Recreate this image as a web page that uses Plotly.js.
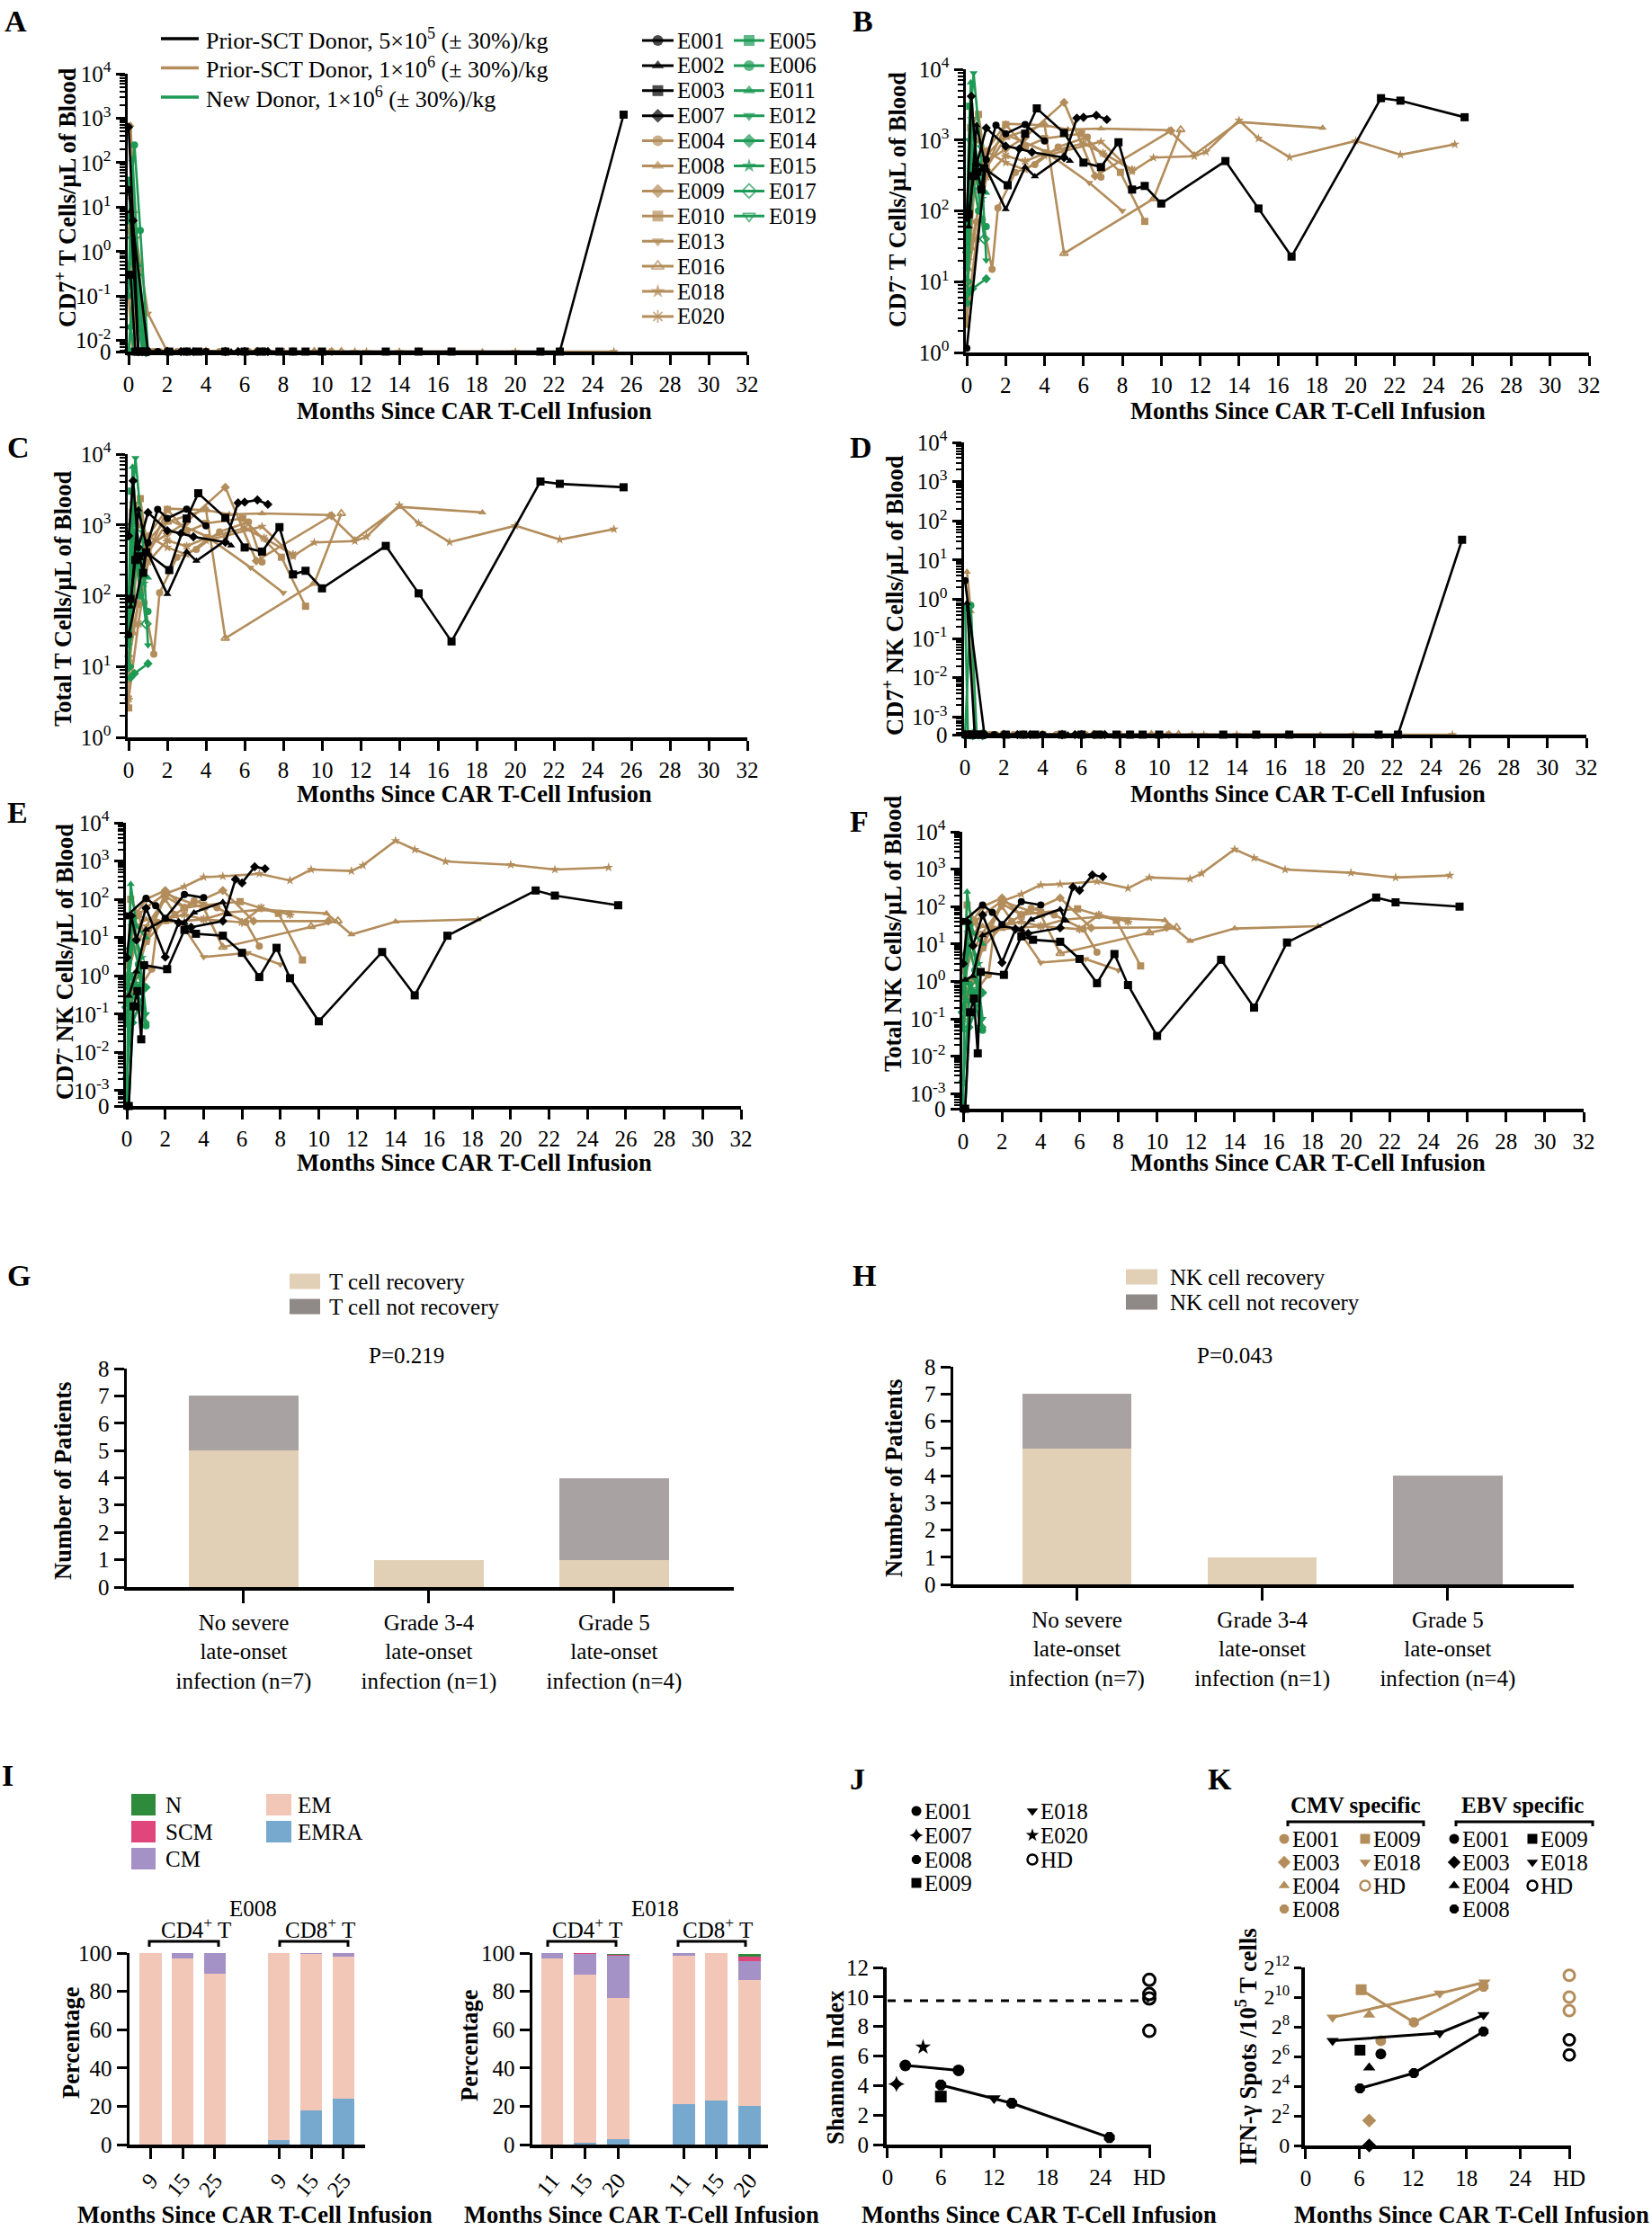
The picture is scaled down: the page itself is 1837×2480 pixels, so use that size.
<!DOCTYPE html>
<html>
<head>
<meta charset="utf-8">
<script src="https://cdn.plot.ly/plotly-3.0.1.min.js"></script>
<style>
html, body { margin: 0; padding: 0; background: #fff; }
#fig { width: 1837px; height: 2480px; }
</style>
</head>
<body>
<div id="fig"></div>
<script>
/**
 * Panels A-F: cell counts per patient (cells/uL), months since infusion.
 * 0 means "not detected" and is drawn on the axis break of the log axis.
 */
// black group: prior-SCT donor 5x10^5/kg
const E001_months = [0, 1.0, 1.5, 2.0, 3.0, 4.0];
const E001_cd7posT = [25, 0, 0, 0, 0, 0];
const E001_cd7negT = [1.15, 530, 1620, 1230, 1660, 970];
const E001_totalT = [28, 560, 1650, 1240, 1670, 970];
const E001_cd7posNK = [3, 0, 0, 0, 0, 0];
const E001_cd7negNK = [37, 107, 68, 32, 134, 110];
const E001_totalNK = [40, 110, 70, 33, 135, 110];

const E002_months = [0.1, 0.5, 1.0, 2.0, 3.0, 3.5, 5.0, 5.3];
const E002_cd7posT = [8, 0, 0, 0, 0, 0, 0, 0];
const E002_cd7negT = [60, 1620, 395, 105, 415, 305, 600, 505];
const E002_totalT = [70, 1650, 400, 105, 420, 310, 600, 510];
const E002_cd7posNK = [0.8, 0, 0, 0, 0, 0, 0, 0];
const E002_cd7negNK = [0.3, 1.3, 16, 30, 25, 45, 85, 40];
const E002_totalNK = [1.1, 1.4, 17, 30, 25, 45, 85, 42];

const E003_months = [0.1, 0.35, 0.55, 0.75, 0.9, 2.1, 3.0, 3.6, 5.0, 6.0, 6.9, 7.8, 8.5, 9.15, 10.0, 13.3, 15.0, 16.7, 21.3, 22.3, 25.6];
const E003_cd7posT = [0.3, 0, 0, 0, 0, 0, 0, 0, 0, 0, 0, 0, 0, 0, 0, 0, 0, 0, 0, 0, 1200];
const E003_cd7negT = [90, 310, 355, 200, 400, 230, 1230, 2800, 1260, 480, 415, 930, 200, 225, 127, 505, 108, 22.6, 3900, 3600, 2100];
const E003_totalT = [90, 320, 360, 210, 410, 230, 1230, 2800, 1260, 480, 420, 930, 200, 225, 127, 505, 108, 22.6, 4100, 3800, 3400];
const E003_cd7posNK = [0, 0, 0, 0, 0, 0, 0, 0, 0, 0, 0, 0, 0, 0, 0, 0, 0, 0, 0, 0, 33];
const E003_cd7negNK = [0, 0.16, 0.4, 0.022, 1.9, 1.5, 15.8, 12.6, 11.2, 4.0, 0.93, 5.4, 0.87, null, 0.065, 4.2, 0.31, 11.2, 170, 125, 70];
const E003_totalNK = [0, 0.15, 0.35, 0.012, 1.8, 1.5, 16, 13, 11.5, 4.0, 0.9, 5.4, 0.8, null, 0.035, 3.8, 0.2, 11, 175, 130, 100];

const E007_months = [0, 0.23, 0.5, 1.0, 2.0, 2.7, 3.35, 5.0, 5.66, 6.0, 6.66, 7.2];
const E007_cd7posT = [630, 5, 0, 0, 0, 0, 0, 0, 0, 0, 0, 0];
const E007_cd7negT = [80, 4150, 450, 1480, 820, 750, 675, 565, 2040, 2090, 2230, 1950];
const E007_totalT = [700, 4200, 480, 1500, 830, 760, 680, 570, 2050, 2100, 2250, 1950];
const E007_cd7posNK = [0, 0, 0, 0, 0, 0, 0, 0, 0, 0, 0, 0];
const E007_cd7negNK = [3, 37, 8.7, 59, 3.1, 24.5, 18.6, 27, 333, 268, 710, 630];
const E007_totalNK = [3, 38, 9, 60, 3.2, 25, 19, 27, 335, 270, 700, 630];

// brown group: prior-SCT donor 1x10^6/kg
const E004_months = [0, 0.5, 0.8, 1.3, 1.6, 2.5, 3.5, 4.7, 6.2, 6.9];
const E004_cd7posT = [3, 0.03, 0, 0, 0, 0, 0, 0, 0, 0];
const E004_cd7negT = [10, 70, 75, 15, 110, 350, 450, 800, 1100, 300];
const E004_totalT = [12, 75, 80, 15, 110, 350, 450, 800, 1100, 300];
const E004_cd7posNK = [0, 0, 0, 0, 0, 0, 0, 0, 0, 0];
const E004_cd7negNK = [0.3, 1.2, 0.6, 1.5, 25, 40, 90, 60, 25, 6];
const E004_totalNK = [0.4, 1.2, 0.7, 1.5, 25, 40, 90, 60, 25, 6];

const E008_months = [0.1, 0.3, 0.5, 1.0, 2.0, 4.0, 5.2, 6.9, 10.4, 11.7, 14.0, 18.3];
const E008_cd7posT = [700, 8, 0.02, 0, 0, 0, 0, 0, 0, 0, 0, 0];
const E008_cd7negT = [15, 400, 1000, 700, 1700, 1620, 1410, 1450, 1380, 620, 1800, 1480];
const E008_totalT = [700, 420, 1000, 700, 1700, 1620, 1410, 1450, 1380, 620, 1800, 1500];
const E008_cd7posNK = [5, 0.5, 0, 0, 0, 0, 0, 0, 0, 0, 0, 0];
const E008_cd7negNK = [1, 5, 20, 30, 25, 30, 45, 53, 43, 12, 26, 30];
const E008_totalNK = [6, 5, 20, 30, 25, 30, 45, 53, 43, 12, 26, 30];

const E009_months = [0, 0.3, 1.0, 2.0, 3.0, 5.0, 6.6, 10.5];
const E009_cd7posT = [6, 0.05, 0, 0, 0, 0, 0, 0];
const E009_cd7negT = [8, 200, 500, 750, 1100, 3400, 310, 1350];
const E009_totalT = [14, 200, 500, 750, 1100, 3400, 310, 1350];
const E009_cd7posNK = [0, 0, 0, 0, 0, 0, 0, 0];
const E009_cd7negNK = [2, 30, 100, 170, 60, 170, 27, 27];
const E009_totalNK = [2, 30, 100, 170, 60, 170, 27, 28];

const E010_months = [0, 0.2, 0.6, 1.0, 2.0, 3.0, 4.0, 5.9, 7.9, 9.15];
const E010_cd7posT = [0.1, 0, 0, 0, 0, 0, 0, 0, 0, 0];
const E010_cd7negT = [2.5, 1500, 2300, 400, 1650, 800, 1050, 1230, 350, 71];
const E010_totalT = [2.6, 1500, 2350, 400, 1650, 800, 1050, 1230, 350, 71];
const E010_cd7posNK = [0, 0, 0, 0, 0, 0, 0, 0, 0, 0];
const E010_cd7negNK = [0.5, 100, 40, 8, 120, 60, 70, 87, 43, 2.6];
const E010_totalNK = [0.5, 110, 40, 8, 120, 60, 70, 87, 43, 2.6];

const E013_months = [0, 0.4, 1.0, 2.0, 4.0, 6.3, 8.0];
const E013_cd7posT = [0.5, 2, 0.04, 0, 0, 0, 0];
const E013_cd7negT = [6, 250, 600, 1200, 700, 250, 100];
const E013_totalT = [6.5, 250, 600, 1200, 700, 250, 110];
const E013_cd7posNK = [0, 0, 0, 0, 0, 0, 0];
const E013_cd7negNK = [1, 5, 20, 100, 3.1, 4, 2];
const E013_totalNK = [1, 5, 20, 100, 3.2, 4, 2];

const E016_months = [0.2, 1.0, 2.0, 4.0, 5.0, 9.6, 11.0];
const E016_cd7posT = [0, 0, 0, 0, 0, 0, 0];
const E016_cd7negT = [30, 400, 1100, 1650, 25, 148, 1400];
const E016_totalT = [30, 400, 1100, 1650, 25, 150, 1450];
const E016_cd7posNK = [0, 0, 0, 0, 0, 0, 0];
const E016_cd7negNK = [0.5, 10, 140, 60, 5.6, 19.5, 27.5];
const E016_totalNK = [0.5, 10, 140, 60, 5.6, 20, 28];

const E018_months = [0.1, 0.4, 1.0, 2.0, 3.0, 4.0, 5.0, 6.9, 8.5, 9.6, 11.7, 12.3, 14.0, 15.0, 16.6, 20.0, 22.3, 25.1];
const E018_cd7posT = [18, 0.5, 0, 0, 0, 0, 0, 0, 0, 0, 0, 0, 0, 0, 0, 0, 0, 0];
const E018_cd7negT = [20, 300, 700, 480, 380, 600, 700, 950, 360, 565, 590, 680, 1900, 1050, 570, 975, 620, 870];
const E018_totalT = [40, 300, 700, 480, 380, 600, 700, 950, 360, 565, 590, 680, 1900, 1050, 570, 975, 620, 870];
const E018_cd7posNK = [0, 0, 0, 0, 0, 0, 0, 0, 0, 0, 0, 0, 0, 0, 0, 0, 0, 0];
const E018_cd7negNK = [3, 30, 60, 140, 215, 380, 400, 465, 310, 600, 550, 770, 3400, 2000, 975, 800, 600, 680];
const E018_totalNK = [3, 30, 60, 140, 215, 380, 400, 470, 310, 600, 550, 770, 3400, 2000, 975, 800, 600, 680];

const E020_months = [0, 0.5, 1.0, 2.0, 3.0, 4.0, 6.0, 7.0, 8.5];
const E020_cd7posT = [0.5, 0, 0, 0, 0, 0, 0, 0, 0];
const E020_cd7negT = [3, 40, 300, 600, 500, 650, 900, 650, 380];
const E020_totalT = [3.5, 40, 300, 600, 500, 650, 900, 650, 380];
const E020_cd7posNK = [0, 0, 0, 0, 0, 0, 0, 0, 0];
const E020_cd7negNK = [0.1, 1, 8, 30, 40, 30, 25, 60, 40];
const E020_totalNK = [0.1, 1, 8, 30, 40, 30, 25, 60, 40];

// green group: new donor 1x10^6/kg
const E005_months = [0, 0.15, 0.5];
const E005_cd7posT = [40, 5, 0];
const E005_cd7negT = [50, 3000, 400];
const E005_totalT = [90, 3000, 400];
const E005_cd7posNK = [0.6, 0, 0];
const E005_cd7negNK = [0, 1, 0.5];
const E005_totalNK = [0.6, 1, 0.5];

const E006_months = [0, 0.3, 0.6, 1.0];
const E006_cd7posT = [5, 250, 3, 0];
const E006_cd7negT = [5, 300, 100, 60];
const E006_totalT = [10, 550, 100, 60];
const E006_cd7posNK = [0, 0.7, 0, 0];
const E006_cd7negNK = [0.2, 8, 2, 0.05];
const E006_totalNK = [0.2, 9, 2, 0.05];

const E011_months = [0, 0.2, 0.5, 1.0];
const E011_cd7posT = [0.2, 120, 0.5, 0];
const E011_cd7negT = [30, 6500, 300, 180];
const E011_totalT = [30, 6600, 300, 180];
const E011_cd7posNK = [0, 0, 0, 0];
const E011_cd7negNK = [0.05, 250, 20, 10];
const E011_totalNK = [0.05, 250, 20, 10];

const E012_months = [0, 0.1, 0.35, 0.7, 1.0];
const E012_cd7posT = [0.1, 2, 0.1, 0, 0];
const E012_cd7negT = [20, 1000, 8800, 800, 20];
const E012_totalT = [20, 1000, 8800, 800, 20];
const E012_cd7posNK = [0, 0, 0, 0, 0];
const E012_cd7negNK = [0, 5, 30, 2, 0.1];
const E012_totalNK = [0, 5, 30, 2, 0.1];

const E014_months = [0.1, 0.3, 1.0];
const E014_cd7posT = [0.02, 0, 0];
const E014_cd7negT = [7, 8, 11];
const E014_totalT = [7, 8, 11];
const E014_cd7posNK = [0, 0, 0];
const E014_cd7negNK = [0, 0.06, 0.5];
const E014_totalNK = [0, 0.06, 0.5];

const E015_months = [0, 0.25, 0.8];
const E015_cd7posT = [36, 3, 0];
const E015_cd7negT = [15, 2000, 150];
const E015_totalT = [50, 2000, 150];
const E015_cd7posNK = [0, 0, 0];
const E015_cd7negNK = [0.5, 20, 3];
const E015_totalNK = [0.5, 20, 3];

const E017_months = [0, 0.4, 0.9];
const E017_cd7posT = [0, 0.3, 0];
const E017_cd7negT = [10, 500, 40];
const E017_totalT = [10, 500, 40];
const E017_cd7posNK = [0, 0, 0];
const E017_cd7negNK = [0.15, 1, 0.06];
const E017_totalNK = [0.15, 1, 0.06];

const E019_months = [0, 0.3, 0.7];
const E019_cd7posT = [0, 0.5, 0];
const E019_cd7negT = [25, 900, 200];
const E019_totalT = [25, 900, 200];
const E019_cd7posNK = [0, 0, 0];
const E019_cd7negNK = [0.002, 0.3, 0.6];
const E019_totalNK = [0.002, 0.3, 0.6];

/**
 * Panels G/H: patients by late-onset infection grade
 */
const infectionGroups = [
	'No severe<br>late-onset<br>infection (n=7)',
	'Grade 3-4<br>late-onset<br>infection (n=1)',
	'Grade 5<br>late-onset<br>infection (n=4)',
];
const tRecovered = [5, 1, 1];
const tNotRecovered = [2, 0, 3];
const nkRecovered = [5, 1, 0];
const nkNotRecovered = [2, 0, 4];

/**
 * Panel I: T-cell subsets (%), CD4 bars then CD8 bars
 */
const e008Months = [9, 15, 25];
const e008_EMRA = [0, 0, 0, 2.2, 17.9, 23.8];
const e008_EM = [100, 97.4, 89.1, 97.8, 81.6, 74.1];
const e008_CM = [0, 2.6, 10.9, 0, 0.3, 1.9];
const e008_SCM = [0, 0, 0, 0, 0.2, 0.2];
const e008_N = [0, 0, 0, 0, 0, 0];
const e018Months = [11, 15, 20];
const e018_EMRA = [0, 1.1, 2.7, 20.9, 23.2, 20.0];
const e018_EM = [97.3, 87.5, 73.7, 77.5, 76.8, 66.0];
const e018_CM = [2.7, 10.9, 22.0, 1.6, 0, 9.7];
const e018_SCM = [0, 0.5, 0.8, 0, 0, 2.2];
const e018_N = [0, 0, 0.5, 0, 0, 1.8];

/**
 * Panel J: Shannon index of TCR repertoire
 */
const shE001_x = [2, 8], shE001_y = [5.36, 5.03];
const shE007_x = [1], shE007_y = [4.1];
const shE008_x = [6, 14, 25], shE008_y = [4.04, 2.8, 0.48];
const shE009_x = [6], shE009_y = [3.25];
const shE018_x = [12], shE018_y = [3.14];
const shE020_x = [4], shE020_y = [6.6];
const shHD_y = [11.16, 10.2, 9.9, 7.7];

/**
 * Panel K: IFN-gamma spots / 10^5 T cells (0 = none detected)
 */
const cmvE001_x = [8.4], cmvE001_y = [133];
const cmvE003_x = [7.1], cmvE003_y = [3.2];
const cmvE004_x = [7.1], cmvE004_y = [446];
const cmvE008_x = [6.2, 12.1, 19.9], cmvE008_y = [1448, 315, 1663];
const cmvE009_x = [6.2], cmvE009_y = [1448];
const cmvE018_x = [3, 15, 20], cmvE018_y = [396, 1218, 2048];
const cmvHD_y = [2837, 1024, 545];
const ebvE001_x = [8.4], ebvE001_y = [72];
const ebvE003_x = [7.1], ebvE003_y = [0];
const ebvE004_x = [7.1], ebvE004_y = [38];
const ebvE008_x = [6.07, 12.1, 19.9], ebvE008_y = [14.4, 29.4, 205];
const ebvE009_x = [6.07], ebvE009_y = [86];
const ebvE018_x = [3, 15, 19.9], ebvE018_y = [133, 191, 446];
const ebvHD_y = [139, 69];

/* ---------------------------------------------------------------- */

const W = 1837, H = 2480;
const SERIF = '"Liberation Serif", "Times New Roman", Times, serif';
const BLACK = '#000000', BROWN = '#B38D5B', GREEN = '#1E9A55';
const HD_POS = 29.5; // x position of the "HD" column in J and K

const px = x => x / W;
const py = y => 1 - y / H;
const hdom = (a, b) => [px(a), px(b)];
const vdom = (top, bottom) => [py(bottom), py(top)];

const mk = (id, color, symbol, m, a, b, c, d, e, f) => ({
	id, color, symbol, months: m,
	cd7posT: a, cd7negT: b, totalT: c, cd7posNK: d, cd7negNK: e, totalNK: f,
});

const patients = [
	mk('E001', BLACK, 'circle', E001_months, E001_cd7posT, E001_cd7negT, E001_totalT, E001_cd7posNK, E001_cd7negNK, E001_totalNK),
	mk('E002', BLACK, 'triangle-up', E002_months, E002_cd7posT, E002_cd7negT, E002_totalT, E002_cd7posNK, E002_cd7negNK, E002_totalNK),
	mk('E003', BLACK, 'square', E003_months, E003_cd7posT, E003_cd7negT, E003_totalT, E003_cd7posNK, E003_cd7negNK, E003_totalNK),
	mk('E007', BLACK, 'diamond', E007_months, E007_cd7posT, E007_cd7negT, E007_totalT, E007_cd7posNK, E007_cd7negNK, E007_totalNK),
	mk('E004', BROWN, 'circle', E004_months, E004_cd7posT, E004_cd7negT, E004_totalT, E004_cd7posNK, E004_cd7negNK, E004_totalNK),
	mk('E008', BROWN, 'triangle-up', E008_months, E008_cd7posT, E008_cd7negT, E008_totalT, E008_cd7posNK, E008_cd7negNK, E008_totalNK),
	mk('E009', BROWN, 'diamond', E009_months, E009_cd7posT, E009_cd7negT, E009_totalT, E009_cd7posNK, E009_cd7negNK, E009_totalNK),
	mk('E010', BROWN, 'square', E010_months, E010_cd7posT, E010_cd7negT, E010_totalT, E010_cd7posNK, E010_cd7negNK, E010_totalNK),
	mk('E013', BROWN, 'triangle-down', E013_months, E013_cd7posT, E013_cd7negT, E013_totalT, E013_cd7posNK, E013_cd7negNK, E013_totalNK),
	mk('E016', BROWN, 'triangle-up-open', E016_months, E016_cd7posT, E016_cd7negT, E016_totalT, E016_cd7posNK, E016_cd7negNK, E016_totalNK),
	mk('E018', BROWN, 'star', E018_months, E018_cd7posT, E018_cd7negT, E018_totalT, E018_cd7posNK, E018_cd7negNK, E018_totalNK),
	mk('E020', BROWN, 'asterisk-open', E020_months, E020_cd7posT, E020_cd7negT, E020_totalT, E020_cd7posNK, E020_cd7negNK, E020_totalNK),
	mk('E005', GREEN, 'square', E005_months, E005_cd7posT, E005_cd7negT, E005_totalT, E005_cd7posNK, E005_cd7negNK, E005_totalNK),
	mk('E006', GREEN, 'circle', E006_months, E006_cd7posT, E006_cd7negT, E006_totalT, E006_cd7posNK, E006_cd7negNK, E006_totalNK),
	mk('E011', GREEN, 'triangle-up', E011_months, E011_cd7posT, E011_cd7negT, E011_totalT, E011_cd7posNK, E011_cd7negNK, E011_totalNK),
	mk('E012', GREEN, 'triangle-down', E012_months, E012_cd7posT, E012_cd7negT, E012_totalT, E012_cd7posNK, E012_cd7negNK, E012_totalNK),
	mk('E014', GREEN, 'diamond', E014_months, E014_cd7posT, E014_cd7negT, E014_totalT, E014_cd7posNK, E014_cd7negNK, E014_totalNK),
	mk('E015', GREEN, 'star', E015_months, E015_cd7posT, E015_cd7negT, E015_totalT, E015_cd7posNK, E015_cd7negNK, E015_totalNK),
	mk('E017', GREEN, 'diamond-open', E017_months, E017_cd7posT, E017_cd7negT, E017_totalT, E017_cd7posNK, E017_cd7negNK, E017_totalNK),
	mk('E019', GREEN, 'triangle-down-open', E019_months, E019_cd7posT, E019_cd7negT, E019_totalT, E019_cd7posNK, E019_cd7negNK, E019_totalNK),
];

/**
 * Log panels A-F: axis ids, domains (px) and the "0" break position
 */
const logPanels = [
	{ key: 'cd7posT', n: '', x: [142, 831], y: [82, 391], lo: -2.25, minExp: -2, zero: true },
	{ key: 'cd7negT', n: '2', x: [1074, 1767], y: [77, 392], lo: 0, minExp: 0, zero: false },
	{ key: 'totalT', n: '3', x: [142, 831], y: [505, 820], lo: 0, minExp: 0, zero: false },
	{ key: 'cd7posNK', n: '4', x: [1072, 1764], y: [492, 817], lo: -3.45, minExp: -3, zero: true },
	{ key: 'cd7negNK', n: '5', x: [140, 824], y: [915, 1230], lo: -3.4, minExp: -3, zero: true },
	{ key: 'totalNK', n: '6', x: [1070, 1761], y: [925, 1233], lo: -3.4, minExp: -3, zero: true },
];

const axisBase = {
	showline: true, linecolor: 'black', linewidth: 3.5,
	ticks: 'outside', ticklen: 11, tickwidth: 3, tickcolor: 'black',
	showgrid: false, zeroline: false, fixedrange: true,
	tickfont: { family: SERIF, size: 25, color: 'black' },
};
const axis = opts => Object.assign({}, axisBase, opts);

const layout = {
	width: W, height: H,
	margin: { l: 0, r: 0, t: 0, b: 0 },
	paper_bgcolor: 'white', plot_bgcolor: 'rgba(0,0,0,0)',
	showlegend: false,
	barmode: 'stack',
	font: { family: SERIF, size: 25, color: 'black' },
	annotations: [],
	shapes: [],
};

const traces = [];
const groupOrder = { [BROWN]: 0, [GREEN]: 1, [BLACK]: 2 };
const markerFor = (symbol, color, size) => ({
	symbol, size, color,
	line: { color, width: /open/.test(symbol) ? 1.8 : 0 },
});

logPanels.forEach(panel => {
	const floor = Math.pow(10, panel.lo);
	const tickvals = [], ticktext = [], minor = [];
	if ( panel.zero ){
		tickvals.push(floor);
		ticktext.push('0');
	}
	for ( let e = panel.minExp; e <= 4; e++ ){
		tickvals.push(Math.pow(10, e));
		ticktext.push(`10<sup>${e}</sup>`);
	}
	for ( let e = Math.floor(panel.lo); e < 4; e++ ){
		for ( let m = 2; m <= 9; m++ ){
			const v = m * Math.pow(10, e);
			if ( Math.log10(v) > panel.lo ) minor.push(v);
		}
	}

	layout[`xaxis${panel.n}`] = axis({
		domain: hdom(...panel.x), anchor: `y${panel.n}`,
		range: [-0.05, 32], tickmode: 'linear', tick0: 0, dtick: 2,
	});
	layout[`yaxis${panel.n}`] = axis({
		domain: vdom(...panel.y), anchor: `x${panel.n}`,
		type: 'log', range: [panel.lo, 4],
		tickmode: 'array', tickvals, ticktext, ticklen: 10,
		minor: { tickmode: 'array', tickvals: minor, ticks: 'outside', ticklen: 6, tickwidth: 2, tickcolor: 'black' },
	});

	patients
		.slice()
		.sort((a, b) => groupOrder[a.color] - groupOrder[b.color])
		.forEach(p => {
			traces.push({
				type: 'scatter', mode: 'lines+markers',
				x: p.months,
				y: p[panel.key].map(v => (v === 0 && panel.zero) ? floor : v),
				xaxis: `x${panel.n}`, yaxis: `y${panel.n}`,
				name: p.id, showlegend: false,
				connectgaps: true, cliponaxis: false, hoverinfo: 'skip',
				line: { color: p.color, width: 2.6 },
				marker: markerFor(p.symbol, p.color, p.symbol === 'square' && p.color === BLACK ? 9 : 8),
			});
		});
});

/**
 * Panel A legends, drawn on an invisible page-sized axis (units = px)
 */
layout.xaxis13 = { domain: [0, 1], range: [0, W], visible: false, fixedrange: true };
layout.yaxis13 = { domain: [0, 1], range: [H, 0], visible: false, fixedrange: true, anchor: 'x13' };
const keyText = (text, x, y, size) => ({
	text, x, y, xref: 'x13', yref: 'y13', showarrow: false,
	xanchor: 'left', yanchor: 'middle',
	font: { family: SERIF, size, color: 'black' },
});

[
	[ 'Prior-SCT Donor, 5×10<sup>5</sup> (± 30%)/kg', BLACK ],
	[ 'Prior-SCT Donor, 1×10<sup>6</sup> (± 30%)/kg', BROWN ],
	[ 'New Donor, 1×10<sup>6</sup> (± 30%)/kg', GREEN ],
].forEach(([ name, color ], i) => {
	const y = 43 + i * 32.5;
	traces.push({
		type: 'scatter', mode: 'lines', x: [179, 221], y: [y, y],
		xaxis: 'x13', yaxis: 'y13', showlegend: false, hoverinfo: 'skip',
		line: { color, width: 3.5 },
	});
	layout.annotations.push(keyText(name, 227, y, 26));
});

const keyColumns = [
	{ list: patients.filter(p => p.color !== GREEN), x0: 714, x1: 749, text: 751 },
	{ list: patients.filter(p => p.color === GREEN), x0: 816, x1: 850, text: 853 },
];
keyColumns.forEach(col => {
	col.list.forEach((p, i) => {
		const y = 45 + i * 27.9;
		traces.push({
			type: 'scatter', mode: 'lines+markers',
			x: [col.x0, (col.x0 + col.x1) / 2, col.x1], y: [y, y, y],
			xaxis: 'x13', yaxis: 'y13', showlegend: false, hoverinfo: 'skip', cliponaxis: false,
			line: { color: p.color, width: 3 },
			marker: Object.assign(markerFor(p.symbol, p.color, 0), { size: [0, 12, 0] }),
		});
		layout.annotations.push(keyText(p.id, col.text, y, 25));
	});
});

/**
 * Panels G and H: stacked bars
 */
const RECOV = '#E1D0B6', NOTREC = '#A8A2A2';
[
	{ n: '7', x: [141, 816], y: [1522, 1765], range: [-0.631, 2.646], rec: tRecovered, not: tNotRecovered },
	{ n: '8', x: [1060, 1750], y: [1520, 1762], range: [-0.667, 2.68], rec: nkRecovered, not: nkNotRecovered },
].forEach(p => {
	layout[`xaxis${p.n}`] = axis({
		domain: hdom(...p.x), anchor: `y${p.n}`, type: 'category',
		range: p.range, ticklen: 14,
	});
	layout[`yaxis${p.n}`] = axis({
		domain: vdom(...p.y), anchor: `x${p.n}`, range: [0, 8],
		tickmode: 'linear', tick0: 0, dtick: 1,
	});
	[ [ p.rec, RECOV ], [ p.not, NOTREC ] ].forEach(([ vals, color ]) => {
		traces.push({
			type: 'bar', x: infectionGroups, y: vals, width: 0.59,
			xaxis: `x${p.n}`, yaxis: `y${p.n}`, showlegend: false,
			marker: { color, line: { width: 0 } }, hoverinfo: 'skip',
		});
	});
});

/**
 * Panel I: subset composition
 */
const subsetColors = { EMRA: '#77A9CF', EM: '#F2C7B7', CM: '#A491C6', SCM: '#E0467C', N: '#2E8B3C' };
[
	{ n: '9', x: [144, 406], y: [2172, 2385], range: [-0.66, 6.68], months: e008Months,
		sets: { EMRA: e008_EMRA, EM: e008_EM, CM: e008_CM, SCM: e008_SCM, N: e008_N } },
	{ n: '10', x: [592, 854], y: [2172, 2385], range: [-0.6, 6.56], months: e018Months,
		sets: { EMRA: e018_EMRA, EM: e018_EM, CM: e018_CM, SCM: e018_SCM, N: e018_N } },
].forEach(p => {
	// CD4 bars in slots 0-2, CD8 bars in slots 4-6
	const slots = [], labels = [];
	[ 0, 1 ].forEach(g => p.months.forEach((m, i) => { slots.push(g * 4 + i); labels.push(String(m)); }));
	layout[`xaxis${p.n}`] = axis({
		domain: hdom(...p.x), anchor: `y${p.n}`, range: p.range,
		tickmode: 'array', tickvals: slots, ticktext: labels, tickangle: -50, ticklen: 12,
	});
	layout[`yaxis${p.n}`] = axis({
		domain: vdom(...p.y), anchor: `x${p.n}`, range: [0, 100],
		tickmode: 'linear', tick0: 0, dtick: 20,
	});
	Object.keys(subsetColors).forEach(k => {
		traces.push({
			type: 'bar', x: slots, y: p.sets[k], width: 0.68,
			xaxis: `x${p.n}`, yaxis: `y${p.n}`, showlegend: false,
			marker: { color: subsetColors[k], line: { width: 0 } }, hoverinfo: 'skip',
		});
	});
});

/**
 * Panel J: Shannon index
 */
layout.xaxis11 = axis({
	domain: hdom(985.5, 1280), anchor: 'y11', range: [-0.15, 29.7],
	tickmode: 'array', tickvals: [0, 6, 12, 18, 24, HD_POS], ticktext: ['0', '6', '12', '18', '24', 'HD'],
});
layout.yaxis11 = axis({
	domain: vdom(2188, 2385), anchor: 'x11', range: [0, 12], tickmode: 'linear', tick0: 0, dtick: 2,
});
[
	[ shE001_x, shE001_y, 'circle', 'lines+markers' ],
	[ shE007_x, shE007_y, 'star-diamond', 'markers' ],
	[ shE008_x, shE008_y, 'octagon', 'lines+markers' ],
	[ shE009_x, shE009_y, 'square', 'markers' ],
	[ shE018_x, shE018_y, 'triangle-down', 'markers' ],
	[ shE020_x, shE020_y, 'star', 'markers' ],
	[ shHD_y.map(() => HD_POS), shHD_y, 'circle-open', 'markers' ],
].forEach(([ x, y, symbol, mode ]) => {
	traces.push({
		type: 'scatter', mode, x, y, xaxis: 'x11', yaxis: 'y11', showlegend: false,
		line: { color: BLACK, width: 3 }, cliponaxis: false, hoverinfo: 'skip',
		marker: { symbol, size: 13, color: BLACK, line: { color: BLACK, width: /open/.test(symbol) ? 3 : 0 } },
	});
});
const hdMean = shHD_y.reduce((s, v) => s + v, 0) / shHD_y.length;
layout.shapes.push({
	type: 'line', xref: 'x11', yref: 'y11', x0: 0, x1: HD_POS, y0: hdMean, y1: hdMean,
	line: { color: BLACK, width: 3, dash: 'dash' },
});

/**
 * Panel K: IFN-gamma ELISpot (log2 axis)
 */
layout.xaxis12 = axis({
	domain: hdom(1450.5, 1747), anchor: 'y12', range: [-0.15, 29.7],
	tickmode: 'array', tickvals: [0, 6, 12, 18, 24, HD_POS], ticktext: ['0', '6', '12', '18', '24', 'HD'],
});
layout.yaxis12 = axis({
	domain: vdom(2188, 2386), anchor: 'x12', type: 'log', range: [0, Math.log10(4096)],
	tickmode: 'array', ticklen: 8,
	tickfont: { family: SERIF, size: 24, color: 'black' },
	tickvals: [1, 4, 16, 64, 256, 1024, 4096],
	ticktext: ['0', '2<sup>2</sup>', '2<sup>4</sup>', '2<sup>6</sup>', '2<sup>8</sup>', '2<sup>10</sup>', '2<sup>12</sup>'],
});
const kZero = v => v === 0 ? 1 : v;
[
	[ cmvE001_x, cmvE001_y, 'circle', BROWN, 'markers' ],
	[ cmvE003_x, cmvE003_y, 'diamond', BROWN, 'markers' ],
	[ cmvE004_x, cmvE004_y, 'triangle-up', BROWN, 'markers' ],
	[ cmvE008_x, cmvE008_y, 'octagon', BROWN, 'lines+markers' ],
	[ cmvE009_x, cmvE009_y, 'square', BROWN, 'markers' ],
	[ cmvE018_x, cmvE018_y, 'triangle-down', BROWN, 'lines+markers' ],
	[ cmvHD_y.map(() => HD_POS), cmvHD_y, 'circle-open', BROWN, 'markers' ],
	[ ebvE001_x, ebvE001_y, 'circle', BLACK, 'markers' ],
	[ ebvE003_x, ebvE003_y, 'diamond', BLACK, 'markers' ],
	[ ebvE004_x, ebvE004_y, 'triangle-up', BLACK, 'markers' ],
	[ ebvE008_x, ebvE008_y, 'octagon', BLACK, 'lines+markers' ],
	[ ebvE009_x, ebvE009_y, 'square', BLACK, 'markers' ],
	[ ebvE018_x, ebvE018_y, 'triangle-down', BLACK, 'lines+markers' ],
	[ ebvHD_y.map(() => HD_POS), ebvHD_y, 'circle-open', BLACK, 'markers' ],
].forEach(([ x, y, symbol, color, mode ]) => {
	traces.push({
		type: 'scatter', mode, x, y: y.map(kZero), xaxis: 'x12', yaxis: 'y12', showlegend: false,
		line: { color, width: 3 }, cliponaxis: false, hoverinfo: 'skip',
		marker: { symbol, size: 12, color, line: { color, width: /open/.test(symbol) ? 3 : 0 } },
	});
});

/**
 * Text: panel letters, axis titles, custom legends
 */
const note = (text, x, y, o = {}) => Object.assign({
	text, x: px(x), y: py(y), xref: 'paper', yref: 'paper', showarrow: false,
	xanchor: 'center', yanchor: 'middle',
	font: { family: SERIF, size: 25, color: 'black' },
}, o);
const letter = (t, x, y) => note(`<b>${t}</b>`, x, y, { xanchor: 'left', font: { family: SERIF, size: 34, color: 'black' } });
const ytitle = (t, x, y) => note(`<b>${t}</b>`, x, y, { textangle: -90, font: { family: SERIF, size: 26.5, color: 'black' } });
const xtitle = (x, y) => note('<b>Months Since CAR T-Cell Infusion</b>', x, y, { font: { family: SERIF, size: 26.5, color: 'black' } });

layout.annotations.push(
	letter('A', 3, 24), letter('B', 946, 24), letter('C', 6, 497), letter('D', 943, 497),
	letter('E', 6, 903), letter('F', 943, 913), letter('G', 6, 1418), letter('H', 946, 1418),
	letter('I', 0, 1974), letter('J', 943, 1978), letter('K', 1341, 1978),

	ytitle('CD7<sup>+</sup> T Cells/µL of Blood', 73, 220),
	ytitle('CD7<sup>-</sup> T Cells/µL of Blood', 996, 222),
	ytitle('Total T Cells/µL of Blood', 70, 666),
	ytitle('CD7<sup>+</sup> NK Cells/µL of Blood', 993, 662),
	ytitle('CD7<sup>-</sup> NK Cells/µL of Blood', 70, 1070),
	ytitle('Total NK Cells/µL of Blood', 993, 1038),
	ytitle('Number of Patients', 70, 1647),
	ytitle('Number of Patients', 994, 1644),
	ytitle('Percentage', 79, 2272),
	ytitle('Percentage', 522, 2275),
	ytitle('Shannon Index', 929, 2299),
	ytitle('IFN-γ Spots /10<sup>5</sup> T cells', 1386, 2276),

	xtitle(527, 457), xtitle(1454, 457),
	xtitle(527, 883), xtitle(1454, 883),
	xtitle(527, 1293), xtitle(1454, 1293),
	xtitle(283, 2463), xtitle(713, 2463), xtitle(1155, 2463), xtitle(1636, 2463),

	note('P=0.219', 452, 1507), note('P=0.043', 1373, 1507),
	note('T cell recovery', 364, 1425, { xanchor: 'left' }),
	note('T cell not recovery', 364, 1453, { xanchor: 'left' }),
	note('NK cell recovery', 1299, 1420, { xanchor: 'left' }),
	note('NK cell not recovery', 1299, 1448, { xanchor: 'left' }),

	note('E008', 281, 2122), note('CD4<sup>+</sup> T', 218, 2144), note('CD8<sup>+</sup> T', 356, 2144),
	note('E018', 728, 2122), note('CD4<sup>+</sup> T', 653, 2144), note('CD8<sup>+</sup> T', 798, 2144),
	note('N', 182, 2007, { xanchor: 'left' }), note('SCM', 182, 2037, { xanchor: 'left' }),
	note('CM', 182, 2067, { xanchor: 'left' }), note('EM', 329, 2007, { xanchor: 'left' }),
	note('EMRA', 329, 2037, { xanchor: 'left' }),

	note('<b>CMV specific</b>', 1507, 2007), note('<b>EBV specific</b>', 1693, 2007),
);

/**
 * J and K keys: marker glyphs on the page-sized axis, labels as text
 */
const glyphKey = (symbol, color, label, x, y) => {
	traces.push({
		type: 'scatter', mode: 'markers', x: [x], y: [y],
		xaxis: 'x13', yaxis: 'y13', showlegend: false, hoverinfo: 'skip', cliponaxis: false,
		marker: { symbol, size: 11, color, line: { color, width: /open/.test(symbol) ? 2.5 : 0 } },
	});
	layout.annotations.push(keyText(label, x + 7, y, 25));
};
[
	[ 'circle', 'E001', 1019, 2014 ], [ 'star-diamond', 'E007', 1019, 2041 ],
	[ 'octagon', 'E008', 1019, 2068 ], [ 'square', 'E009', 1019, 2094 ],
	[ 'triangle-down', 'E018', 1148, 2014 ], [ 'star', 'E020', 1148, 2041 ], [ 'circle-open', 'HD', 1148, 2068 ],
].forEach(([ s, t, x, y ]) => glyphKey(s, BLACK, t, x, y));
[
	[ 'circle', 'E001', 0, 0 ], [ 'diamond', 'E003', 0, 1 ], [ 'triangle-up', 'E004', 0, 2 ], [ 'octagon', 'E008', 0, 3 ],
	[ 'square', 'E009', 1, 0 ], [ 'triangle-down', 'E018', 1, 1 ], [ 'circle-open', 'HD', 1, 2 ],
].forEach(([ s, t, c, r ]) => {
	const y = 2045 + r * 26;
	glyphKey(s, BROWN, t, [1428, 1518][c], y);
	glyphKey(s, BLACK, t, [1617, 1704][c], y);
});

// swatches and brackets
const rect = (x0, x1, yc, h, color) => ({
	type: 'rect', xref: 'paper', yref: 'paper',
	x0: px(x0), x1: px(x1), y0: py(yc + h / 2), y1: py(yc - h / 2),
	fillcolor: color, line: { width: 0 },
});
const bracket = (x0, x1, y, drop) => ({
	type: 'path', xref: 'paper', yref: 'paper',
	path: `M ${px(x0)} ${py(y + drop)} L ${px(x0)} ${py(y)} L ${px(x1)} ${py(y)} L ${px(x1)} ${py(y + drop)}`,
	line: { color: 'black', width: 3 },
});
layout.shapes.push(
	rect(322, 356, 1425, 17, RECOV), rect(322, 356, 1453, 17, '#8F8A87'),
	rect(1252, 1287, 1420, 17, RECOV), rect(1252, 1287, 1448, 17, '#8F8A87'),
	rect(146, 173, 2007, 24, subsetColors.N), rect(146, 173, 2037, 24, subsetColors.SCM),
	rect(146, 173, 2067, 24, subsetColors.CM), rect(296, 324, 2007, 24, subsetColors.EM),
	rect(296, 324, 2037, 24, subsetColors.EMRA),
	bracket(166, 243, 2159, 6), bracket(311, 387, 2159, 6),
	bracket(609, 685, 2159, 6), bracket(754, 829, 2159, 6),
	bracket(1432, 1583, 2026, 5), bracket(1619, 1771, 2026, 5),
);

Plotly.newPlot('fig', traces, layout, { staticPlot: true, displayModeBar: false });
</script>
</body>
</html>
